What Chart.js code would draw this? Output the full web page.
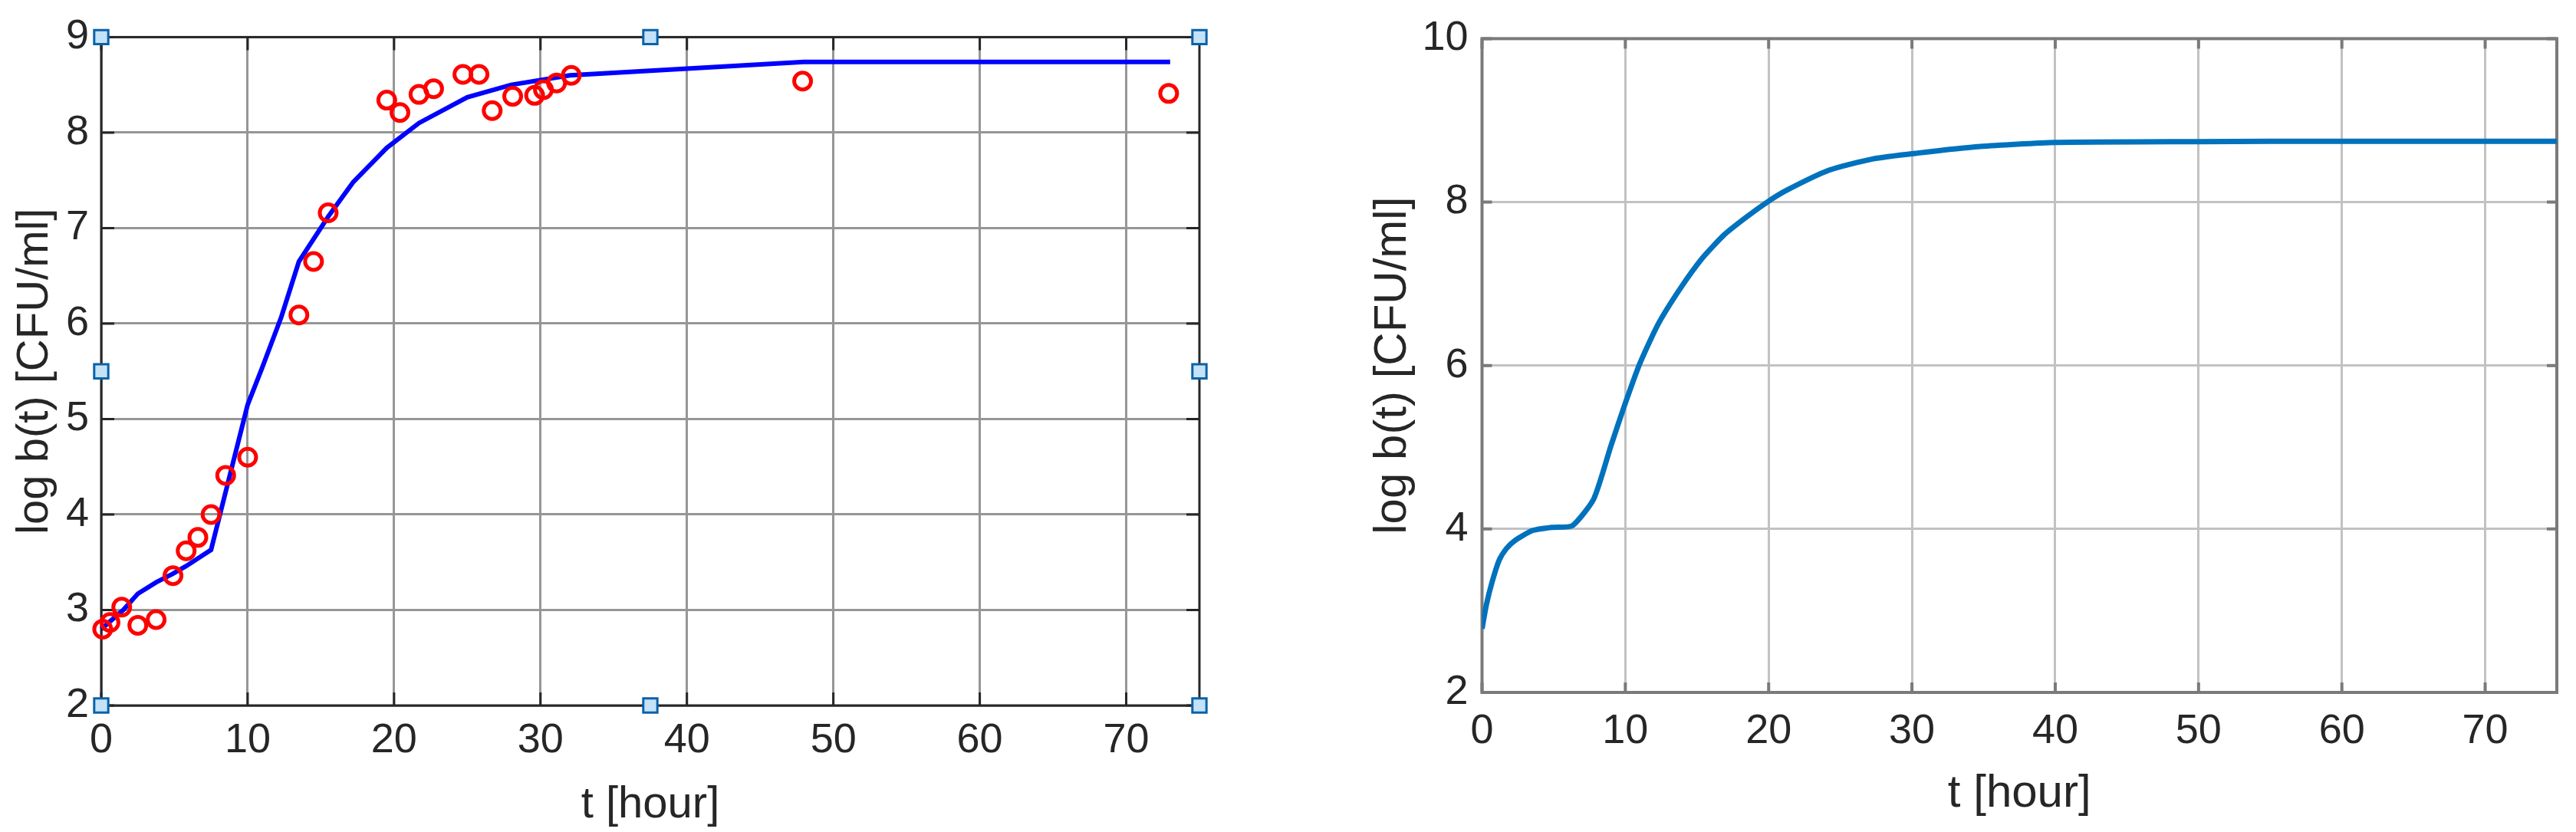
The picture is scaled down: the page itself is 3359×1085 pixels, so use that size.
<!DOCTYPE html>
<html>
<head>
<meta charset="utf-8">
<script src="https://cdn.jsdelivr.net/npm/chart.js@4/dist/chart.umd.min.js"></script>
<style>
  html, body { margin: 0; padding: 0; background: #ffffff; overflow: hidden; }
  canvas { position: absolute; top: 0; }
</style>
</head>
<body>
<canvas id="fitChart" width="1660" height="1085" style="left:0px"></canvas>
<canvas id="simChart" width="1679" height="1085" style="left:1680px"></canvas>
<script>
// measured points (red circles)
const tData = [0.1, 0.6, 1.4, 2.5, 3.75, 4.9, 5.8, 6.6, 7.5, 8.5, 10.0, 13.5, 14.5, 15.5,
    19.5, 20.4, 21.7, 22.7, 24.7, 25.8, 26.7, 28.1, 29.6, 30.2, 31.1, 32.1, 47.9, 72.9];
const logbData = [2.8, 2.87, 3.03, 2.84, 2.9, 3.36, 3.62, 3.76, 4.0, 4.41, 4.6, 6.09, 6.65, 7.16,
    8.34, 8.21, 8.4, 8.46, 8.61, 8.61, 8.23, 8.38, 8.39, 8.45, 8.52, 8.6, 8.54, 8.41];

// fitted model (blue line, left panel)
const tFit = [0, 1.5, 2.5, 3.75, 4.9, 5.8, 6.6, 7.5, 10, 11, 12.3, 13.5, 15.5, 17.2, 19.5,
    21.7, 25, 28, 32, 40, 48, 73];
const logbFit = [2.8, 3.0, 3.17, 3.29, 3.38, 3.46, 3.54, 3.63, 5.15, 5.54, 6.07, 6.65, 7.12, 7.48, 7.84,
    8.1, 8.37, 8.5, 8.6, 8.67, 8.74, 8.74];

// simulated curve (right panel)
const tSim = [0, 0.3, 0.7, 1.2, 1.7, 2.3, 3.5, 4.9, 6.3, 7.8, 9.0, 10, 11, 12.3, 13.9, 15.4,
    16.9, 18.4, 19.9, 21.2, 24.2, 27.3, 30.4, 34.75, 40, 50, 60, 75];
const logbSim = [2.78, 3.07, 3.35, 3.62, 3.76, 3.86, 3.98, 4.02, 4.04, 4.37, 5.02, 5.54, 6.02, 6.51, 6.96, 7.32,
    7.6, 7.81, 8.0, 8.14, 8.39, 8.53, 8.6, 8.68, 8.73, 8.74, 8.745, 8.745];

// selection handles on the left axes
const handleT = [0, 0, 0, 37.5, 37.5, 75, 75, 75];
const handleY = [9, 5.5, 2, 9, 2, 9, 5.5, 2];

const xTicks = [0, 10, 20, 30, 40, 50, 60, 70];
const yTicksFit = [2, 3, 4, 5, 6, 7, 8, 9];
const yTicksSim = [2, 4, 6, 8, 10];

const xyPairs = (xs, ys) => xs.map((x, i) => ({ x: x, y: ys[i] }));

Chart.defaults.font.family = "'Liberation Sans', Arial, Helvetica, sans-serif";
Chart.defaults.color = "#262626";
Chart.defaults.animation = false;

// axes box + inward tick marks, MATLAB style
const boxPlugin = {
    id: "matlabBox",
    beforeDatasetsDraw(chart, args, opts) {
        const { ctx, chartArea: a, scales: { x, y } } = chart;
        ctx.save();
        ctx.strokeStyle = opts.color;
        ctx.lineWidth = opts.width;
        ctx.beginPath();
        x.ticks.forEach((t) => {
            const px = x.getPixelForValue(t.value);
            ctx.moveTo(px, a.bottom);
            ctx.lineTo(px, a.bottom - opts.tickLen);
            ctx.moveTo(px, a.top);
            ctx.lineTo(px, a.top + opts.tickLen);
        });
        y.ticks.forEach((t) => {
            const py = y.getPixelForValue(t.value);
            ctx.moveTo(a.left, py);
            ctx.lineTo(a.left + opts.tickLen, py);
            ctx.moveTo(a.right, py);
            ctx.lineTo(a.right - opts.tickLen, py);
        });
        ctx.stroke();
        ctx.strokeRect(a.left, a.top, a.right - a.left, a.bottom - a.top);
        ctx.restore();
    },
};

const axisOpts = (ticksArr, min, max, opt) => ({
    type: "linear",
    min: min,
    max: max,
    afterBuildTicks: (s) => { s.ticks = ticksArr.map((v) => ({ value: v })); },
    grid: { color: opt.gridColor, lineWidth: opt.gridWidth, drawTicks: false },
    border: { display: false },
    ticks: {
        font: { size: 54, lineHeight: 1.2 },
        padding: opt.tickPad,
        color: "#262626",
        maxRotation: 0,
        autoSkip: false,
    },
    title: {
        display: true,
        text: opt.title,
        font: { size: opt.titleSize, lineHeight: 1.2 },
        color: "#262626",
        padding: opt.titlePad,
    },
    afterFit: opt.fit,
});

new Chart(document.getElementById("fitChart").getContext("2d"), {
    type: "scatter",
    data: {
        datasets: [
            {
                label: "handles",
                data: xyPairs(handleT, handleY),
                pointStyle: "rect",
                pointRadius: 13,
                pointBackgroundColor: "#c4e2f8",
                pointBorderColor: "#0a62a8",
                pointBorderWidth: 3,
                showLine: false,
                clip: false,
                order: -1,
            },
            {
                label: "data",
                data: xyPairs(tData, logbData),
                pointStyle: "circle",
                pointRadius: 11,
                pointBackgroundColor: "rgba(0,0,0,0)",
                pointBorderColor: "#ff0000",
                pointBorderWidth: 5,
                showLine: false,
                clip: false,
                order: 0,
            },
            {
                label: "fit",
                data: xyPairs(tFit, logbFit),
                showLine: true,
                borderColor: "#0000ff",
                borderWidth: 6,
                pointRadius: 0,
                tension: 0,
                clip: false,
                order: 1,
            },
        ],
    },
    options: {
        responsive: false,
        layout: { padding: { left: 0, top: 45, right: 96, bottom: 0 } },
        plugins: {
            legend: { display: false },
            tooltip: { enabled: false },
            matlabBox: { color: "#262626", width: 3, tickLen: 17 },
        },
        scales: {
            x: axisOpts(xTicks, 0, 75, {
                gridColor: "#969696", gridWidth: 3, tickPad: 14,
                title: "t [hour]", titleSize: 58, titlePad: { top: 0, bottom: 0 },
                fit: (s) => { s.height = 165; },
            }),
            y: axisOpts(yTicksFit, 2, 9, {
                gridColor: "#969696", gridWidth: 3, tickPad: 16,
                title: "log b(t) [CFU/ml]", titleSize: 58, titlePad: { top: 11, bottom: 0 },
                fit: (s) => { s.width = 132; },
            }),
        },
    },
    plugins: [boxPlugin],
});

new Chart(document.getElementById("simChart").getContext("2d"), {
    type: "scatter",
    data: {
        datasets: [
            {
                label: "model",
                data: xyPairs(tSim, logbSim),
                showLine: true,
                borderColor: "#0072bd",
                borderWidth: 7,
                pointRadius: 0,
                tension: 0.2,
            },
        ],
    },
    options: {
        responsive: false,
        layout: { padding: { left: 100, top: 50, right: 25, bottom: 0 } },
        plugins: {
            legend: { display: false },
            tooltip: { enabled: false },
            matlabBox: { color: "#7a7a7a", width: 4, tickLen: 13 },
        },
        scales: {
            x: axisOpts(xTicks, 0, 75, {
                gridColor: "#c2c2c2", gridWidth: 3, tickPad: 19,
                title: "t [hour]", titleSize: 60, titlePad: { top: 0, bottom: 14 },
                fit: (s) => { s.height = 182; },
            }),
            y: axisOpts(yTicksSim, 2, 10, {
                gridColor: "#c2c2c2", gridWidth: 3, tickPad: 18,
                title: "log b(t) [CFU/ml]", titleSize: 60, titlePad: { top: 0, bottom: 0 },
                fit: (s) => { s.width = 152.5; },
            }),
        },
    },
    plugins: [boxPlugin],
});
</script>
</body>
</html>
